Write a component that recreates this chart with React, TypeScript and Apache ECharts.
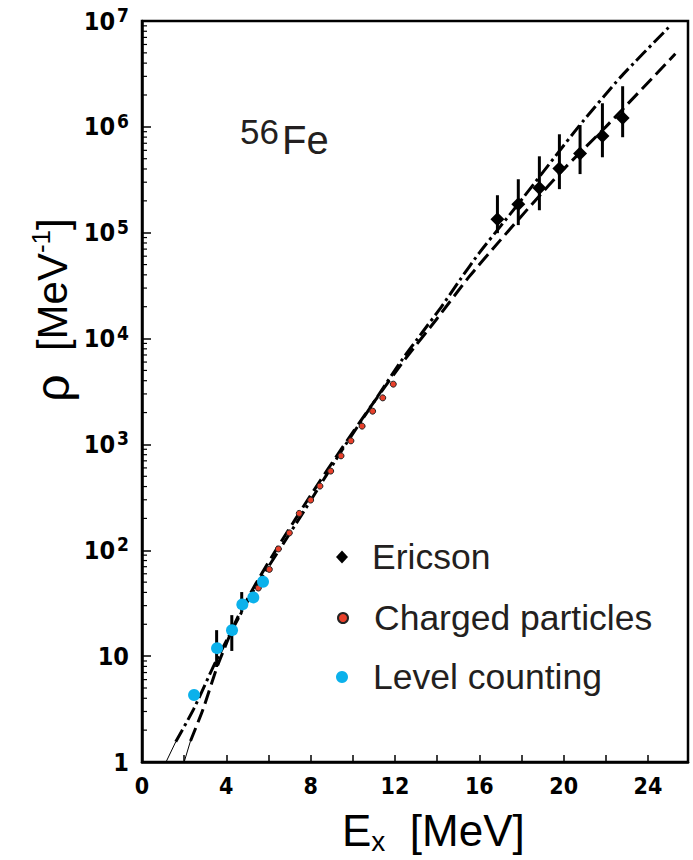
import React, { useEffect, useRef } from 'react';
import * as echarts from 'echarts';

// Ericson points (E in MeV, rho in MeV^-1) with error bar ends
const ericsonE = [16.86, 17.85, 18.85, 19.8, 20.78, 21.84, 22.8];
const ericsonRho = [1.34e5, 1.86e5, 2.65e5, 4.04e5, 5.6e5, 8.2e5, 1.21e6];
const ericsonLow = [9.9e4, 1.18e5, 1.63e5, 2.58e5, 3.58e5, 5.16e5, 7.98e5];
const ericsonHigh = [2.26e5, 3.2e5, 5.27e5, 8.51e5, 1.04e6, 1.67e6, 2.42e6];

// Charged particles
const chargedE = [5.52, 6.04, 6.47, 6.99, 7.46, 8.0, 8.44, 8.95, 9.44, 9.91, 10.44, 10.94, 11.42, 11.92];
const chargedRho = [44, 66, 103, 146, 223, 298, 404, 560, 780, 1081, 1489, 2061, 2754, 3710];

// Level counting
const levelE = [2.47, 3.56, 4.27, 4.76, 5.28, 5.74];
const levelRho = [4.3, 11.9, 17.6, 30.8, 35.9, 50.4];
const levelBarE = [3.54, 4.26, 4.73];
const levelBarLow = [7.9, 11.2, 26.1];
const levelBarHigh = [17.6, 24.4, 40.3];

// Dash-dot curve
const dashDotE = [1.6, 2.45, 3.5, 4.6, 5.5, 6.5, 8, 9.5, 11, 12.3, 13.3, 14.2, 15.1, 16, 17, 18, 20.7, 22.7, 25.0];
const dashDotRho = [1.55, 3.16, 8.9, 23.4, 49, 100, 295, 891, 2512, 6166, 11480, 19950, 36310, 64570, 114800, 204200, 1.0e6, 2.95e6, 8.77e6];
const dashDotTailE = [1.14, 1.6];
const dashDotTailRho = [1, 1.55];

// Dashed curve
const dashedE = [2.3, 2.9, 3.6, 4.5, 5.5, 6.5, 8, 9.5, 11, 12.5, 14, 15.5, 17, 18.5, 20, 22, 25.3];
const dashedRho = [1.58, 3.16, 8.3, 22.4, 52.5, 112, 331, 933, 2512, 6457, 15490, 38020, 85110, 186200, 398100, 1.0e6, 4.9e6];
const dashedTailE = [2.0, 2.3];
const dashedTailRho = [1, 1.58];

// Axis labels
const xLabels = [0, 4, 8, 12, 16, 20, 24];
const yDecades = [1, 10, 100, 1000, 1e4, 1e5, 1e6, 1e7];
const minorMultipliers = [2, 3, 4, 5, 6, 7, 8, 9];

const zip = (a: number[], b: number[]) => a.map((v, i) => [v, b[i]]);

export default function App() {
  const ref = useRef<HTMLDivElement>(null);

  useEffect(() => {
    if (!ref.current) return;
    const chart = echarts.init(ref.current, undefined, { renderer: 'svg' });

    const minorTicks: number[][] = [];
    yDecades.slice(0, -1).forEach((d) => minorMultipliers.forEach((m) => minorTicks.push([0, d * m])));

    const labelFont = "'DejaVu Sans Condensed', 'DejaVu Sans', sans-serif";
    const textFont = "'Liberation Sans', Arial, sans-serif";

    const errorRender = (w: number) => (params: any, api: any) => {
      const x = api.value(0);
      const p1 = api.coord([x, api.value(1)]);
      const p2 = api.coord([x, api.value(2)]);
      return {
        type: 'line',
        shape: { x1: p1[0], y1: p1[1], x2: p2[0], y2: p2[1] },
        style: { stroke: '#000', lineWidth: w },
      };
    };

    const option: any = {
      animation: false,
      backgroundColor: '#fff',
      grid: {
        left: 142, top: 21, width: 546, height: 741,
        show: true, borderColor: '#000', borderWidth: 2.5,
      },
      xAxis: {
        type: 'value', min: 0, max: 25.9, interval: 2,
        axisLine: { show: true, lineStyle: { color: '#000', width: 2.5 } },
        axisTick: { show: true, inside: true, length: 7, lineStyle: { color: '#000', width: 1.5 } },
        splitLine: { show: false },
        axisLabel: {
          color: '#000', fontFamily: labelFont, fontWeight: 'bold', fontSize: 23, margin: 12,
          showMaxLabel: false,
          formatter: (v: number) => (xLabels.includes(Math.round(v)) && Math.abs(v - Math.round(v)) < 1e-6 ? String(Math.round(v)) : ''),
        },
      },
      yAxis: {
        type: 'log', logBase: 10, min: 1, max: 1e7, splitNumber: 7,
        axisLine: { show: true, lineStyle: { color: '#000', width: 2.5 } },
        axisTick: { show: true, inside: true, length: 9, lineStyle: { color: '#000', width: 1.5 } },
        splitLine: { show: false },
        axisLabel: {
          margin: 13,
          formatter: (v: number) => {
            const p = Math.round(Math.log10(v));
            if (p === 0) return '{b|1}';
            if (p === 1) return '{b|10}';
            return '{b|10}{s|' + p + '}';
          },
          rich: {
            b: { color: '#000', fontFamily: labelFont, fontWeight: 'bold', fontSize: 25 },
            s: { color: '#000', fontFamily: labelFont, fontWeight: 'bold', fontSize: 19, padding: [0, 0, 12, 2] },
          },
        },
      },
      legend: [
        {
          data: [{ name: 'Ericson', icon: 'diamond' }], left: 336, top: 539, padding: 0,
          itemWidth: 12, itemHeight: 13,
          textStyle: { fontFamily: textFont, fontSize: 35.5, color: '#231F20', padding: [0, 0, 0, 19] },
        },
        {
          data: [{ name: 'Charged particles', icon: 'circle' }], left: 337, top: 600, padding: 0,
          itemWidth: 10, itemHeight: 10,
          textStyle: { fontFamily: textFont, fontSize: 35.5, color: '#231F20', padding: [0, 0, 0, 21] },
        },
        {
          data: [{ name: 'Level counting', icon: 'circle' }], left: 336, top: 659, padding: 0,
          itemWidth: 12, itemHeight: 12,
          textStyle: { fontFamily: textFont, fontSize: 35.5, color: '#231F20', padding: [0, 0, 0, 20] },
        },
      ],
      graphic: [
        {
          type: 'text', x: 240, y: 131, silent: true,
          style: { text: '56', font: "35px 'Liberation Sans', Arial, sans-serif", fill: '#231F20', align: 'left', verticalAlign: 'middle' },
        },
        {
          type: 'text', x: 282, y: 140, silent: true,
          style: { text: 'Fe', font: "40px 'Liberation Sans', Arial, sans-serif", fill: '#231F20', align: 'left', verticalAlign: 'middle' },
        },
        {
          type: 'text', x: 52, y: 310, rotation: Math.PI / 2, silent: true,
          style: {
            text: '{r|ρ}{b|  [MeV}{s|-1}{b|]}', align: 'center', verticalAlign: 'middle',
            rich: {
              r: { fontFamily: textFont, fontSize: 48, fill: '#000' },
              b: { fontFamily: textFont, fontSize: 42, fill: '#000' },
              s: { fontFamily: textFont, fontSize: 26, fill: '#000', padding: [0, 0, 22, 0] },
            },
          },
        },
        {
          type: 'text', x: 342, y: 830, silent: true,
          style: {
            text: '{b|E}{s|x}{b|  [MeV]}', align: 'left', verticalAlign: 'middle',
            rich: {
              b: { fontFamily: textFont, fontSize: 44, fill: '#000' },
              s: { fontFamily: textFont, fontSize: 28, fill: '#000', padding: [22, 0, 0, 0] },
            },
          },
        },
      ],
      series: [
        {
          type: 'line', data: zip(dashDotTailE, dashDotTailRho), symbol: 'none', silent: true,
          lineStyle: { color: '#000', width: 1 }, z: 2,
        },
        {
          name: 'Dash-dot', type: 'line', data: zip(dashDotE, dashDotRho), symbol: 'none', smooth: 0.2, silent: true,
          lineStyle: { color: '#000', width: 3, type: [14, 4, 3, 4] }, z: 2,
        },
        {
          type: 'line', data: zip(dashedTailE, dashedTailRho), symbol: 'none', silent: true,
          lineStyle: { color: '#000', width: 1 }, z: 2,
        },
        {
          name: 'Dashed', type: 'line', data: zip(dashedE, dashedRho), symbol: 'none', smooth: 0.2, silent: true,
          lineStyle: { color: '#000', width: 3, type: [14, 6] }, z: 2,
        },
        {
          type: 'custom', silent: true, z: 3,
          data: levelBarE.map((e, i) => [e, levelBarLow[i], levelBarHigh[i]]),
          encode: { x: 0, y: [1, 2] },
          renderItem: errorRender(3),
        },
        {
          type: 'custom', silent: true, z: 3,
          data: ericsonE.map((e, i) => [e, ericsonLow[i], ericsonHigh[i]]),
          encode: { x: 0, y: [1, 2] },
          renderItem: errorRender(3),
        },
        {
          name: 'Charged particles', type: 'scatter', data: zip(chargedE, chargedRho),
          symbol: 'circle', symbolSize: 6, z: 4,
          itemStyle: { color: '#E8402A', borderColor: '#222', borderWidth: 1, opacity: 1 },
        },
        {
          name: 'Level counting', type: 'scatter', data: zip(levelE, levelRho),
          symbol: 'circle', symbolSize: 12, z: 5,
          itemStyle: { color: '#0BB1EB', opacity: 1 },
        },
        {
          name: 'Ericson', type: 'scatter', data: zip(ericsonE, ericsonRho),
          symbol: 'diamond', symbolSize: 14, z: 5,
          itemStyle: { color: '#000', opacity: 1 },
        },
        {
          type: 'custom', silent: true, z: 6,
          data: minorTicks,
          encode: { x: 0, y: 1 },
          renderItem: (params: any, api: any) => {
            const p = api.coord([0, api.value(1)]);
            return {
              type: 'line',
              shape: { x1: p[0], y1: p[1], x2: p[0] + 5, y2: p[1] },
              style: { stroke: '#000', lineWidth: 1.2 },
            };
          },
        },
      ],
    };

    chart.setOption(option);
    return () => chart.dispose();
  }, []);

  return (
    <div
      ref={ref}
      style={{ position: 'fixed', left: 0, top: 0, width: 693, height: 860, background: '#fff' }}
    />
  );
}
